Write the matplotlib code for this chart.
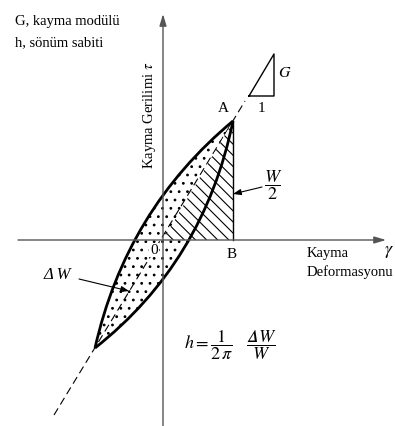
import numpy as np
import matplotlib.pyplot as plt
from matplotlib.path import Path
from matplotlib.patches import PathPatch, Polygon

plt.rcParams['font.family'] = ['Liberation Serif', 'DejaVu Serif']
plt.rcParams['mathtext.fontset'] = 'stix'
plt.rcParams['hatch.linewidth'] = 0.8

# key points of the diagram (origin = crossing of the two axes, units ~ pixels)
tip = [-68, -108]          # lower tip of the loop
peak = [70, 119]           # point A
ctrl_upper = [-37, 30]     # control point of loading branch
ctrl_lower = [41, -22]     # control point of unloading branch
foot = [70, 0]             # point B
backbone_x = [-109, 82]
backbone_y = [-175, 139]
slope_x = [86, 111, 111, 86]   # small G / 1 triangle
slope_y = [144, 144, 186, 144]

fig = plt.figure(figsize=(3.95, 4.26), dpi=100)
ax = fig.add_axes([0, 0, 1, 1])
ax.set_xlim(-163, 232)
ax.set_ylim(-186, 240)
ax.axis('off')

# dotted loop (delta W)
loop = Path([tip, ctrl_upper, peak, ctrl_lower, tip, tip],
            [Path.MOVETO, Path.CURVE3, Path.CURVE3, Path.CURVE3, Path.CURVE3, Path.CLOSEPOLY])
ax.add_patch(PathPatch(loop, facecolor='white', edgecolor='k', lw=0, hatch='..', zorder=1))

# backbone line
ax.plot(backbone_x, backbone_y, color='k', lw=0.8, ls=(0, (7, 4)), zorder=2)

# hatched triangle O-A-B (W/2)
ax.add_patch(Polygon([[0, 0], peak, foot], closed=True, facecolor='white', edgecolor='k',
                     lw=0, hatch='\\\\\\', zorder=3))
ax.plot([peak[0], foot[0]], [peak[1], foot[1]], color='k', lw=1, zorder=4)

# loop branches
up = Path([tip, ctrl_upper, peak], [Path.MOVETO, Path.CURVE3, Path.CURVE3])
down = Path([tip, ctrl_lower, peak], [Path.MOVETO, Path.CURVE3, Path.CURVE3])
ax.add_patch(PathPatch(up, fill=False, lw=2, edgecolor='k', zorder=5))
ax.add_patch(PathPatch(down, fill=False, lw=2, edgecolor='k', zorder=5))

# axes
axis_style = dict(arrowstyle='-|>,head_length=0.5,head_width=0.15', color='#555555', lw=1,
                  mutation_scale=14, shrinkA=0, shrinkB=0)
ax.annotate('', xy=(0, 226), xytext=(0, -186), arrowprops=axis_style, zorder=6)
ax.annotate('', xy=(223, 0), xytext=(-145, 0), arrowprops=axis_style, zorder=6)

# slope triangle
ax.plot(slope_x, slope_y, color='k', lw=1)
ax.text(122, 167, '$G$', fontsize=11.5, ha='center', va='center')
ax.text(98, 131, '1', fontsize=11, ha='center', va='center')

# labels
ax.text(-148, 219, 'G, kayma modülü', fontsize=10.5, ha='left', va='center')
ax.text(-148, 197, 'h, sönüm sabiti', fontsize=10.5, ha='left', va='center')
ax.text(-14, 125, r'Kayma Gerilimi $\tau$', fontsize=10.5, rotation=90, ha='center', va='center')
ax.text(60, 131, 'A', fontsize=11, ha='center', va='center')
ax.text(69, -14, 'B', fontsize=11, ha='center', va='center')
ax.text(-9, -10, '0', fontsize=11, ha='center', va='center', zorder=7,
        bbox=dict(facecolor='white', edgecolor='none', pad=0.5))
ax.text(144, -13, 'Kayma', fontsize=10.5, ha='left', va='center')
ax.text(144, -32, 'Deformasyonu', fontsize=10.5, ha='left', va='center')
ax.text(226, -12, r'$\gamma$', fontsize=13, ha='center', va='center')

ax.text(110, 55, r'$\dfrac{W}{2}$', fontsize=13, ha='center', va='center')
ax.annotate('', xy=(70, 46), xytext=(99, 53),
            arrowprops=dict(arrowstyle='-|>,head_length=0.4,head_width=0.15', color='k', lw=0.8,
                            mutation_scale=12, shrinkA=0, shrinkB=0), zorder=7)

ax.text(-106, -35, 'Δ W', fontsize=12, style='italic', ha='center', va='center')
ax.annotate('', xy=(-34, -51), xytext=(-84, -39),
            arrowprops=dict(arrowstyle='-|>,head_length=0.4,head_width=0.15', color='k', lw=0.8,
                            mutation_scale=12, shrinkA=0, shrinkB=0), zorder=7)

ax.text(68, -105, '$h=\\dfrac{1}{2\\,\\pi}\\quad\\dfrac{\U0001D6E5\\,W}{W}$', fontsize=13,
        ha='center', va='center')

fig.savefig('out.png', dpi=100)
